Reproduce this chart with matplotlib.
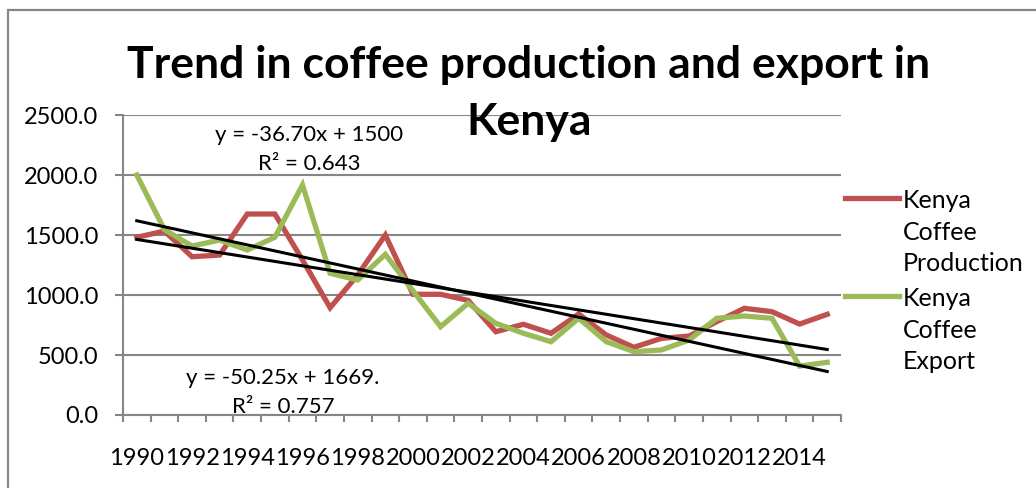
import matplotlib

matplotlib.use("Agg")
import matplotlib.pyplot as plt  # noqa: E402
import numpy as np  # noqa: E402
from matplotlib.lines import Line2D  # noqa: E402
from matplotlib.patches import Rectangle  # noqa: E402

# --- datos (miles de sacos / toneladas, 1990-2015) ---
anios = list(range(1990, 2016))
produccion = [1481, 1533, 1319, 1333, 1675, 1675, 1292, 894, 1167, 1500,
              1006, 1006, 955, 694, 756, 681, 842, 667, 564, 639,
              658, 778, 889, 861, 758, 839]
exportacion = [2000, 1545, 1408, 1458, 1375, 1481, 1917, 1181, 1125, 1339,
               1035, 736, 931, 764, 681, 611, 806, 611, 528, 542,
               625, 806, 825, 806, 408, 439]

# tendencias lineales (x = 1..n) tal como las reporta la hoja
tend_prod = (-36.70, 1500)
tend_exp = (-50.25, 1669)
etiqueta_prod = "y = -36.70x + 1500\nR² = 0.643"
etiqueta_exp = "y = -50.25x + 1669.\nR² = 0.757"

ROJO = "#C0504D"
VERDE = "#9BBB59"
GRIS = "#868686"
FUENTE = ["Lato", "DejaVu Sans"]

plt.rcParams["font.family"] = FUENTE

fig = plt.figure(figsize=(10.36, 4.88), dpi=100)
ax = fig.add_axes([0.1187, 0.1496, 0.6931, 0.6147])

x = np.arange(len(anios))
ax.plot(x, produccion, color=ROJO, lw=3.8, solid_joinstyle="miter", zorder=3)
ax.plot(x, exportacion, color=VERDE, lw=3.8, solid_joinstyle="miter", zorder=3)

xs = np.arange(1, len(anios) + 1)
for m, b in (tend_prod, tend_exp):
    ax.plot(x, m * xs + b, color="black", lw=2.2, zorder=4)

ax.text(6.25, 2215, etiqueta_prod, ha="center", va="center", fontsize=16,
        linespacing=1.55)
ax.text(5.3, 185, etiqueta_exp, ha="center", va="center", fontsize=16,
        linespacing=1.55)

ax.set_xlim(-0.5, len(anios) - 0.5)
ax.set_ylim(0, 2500)
ax.set_yticks(np.arange(0, 2501, 500))
ax.set_yticklabels([f"{v:.1f}" for v in np.arange(0, 2501, 500)])
ax.set_xticks(x[::2])
ax.set_xticklabels([str(a) for a in anios[::2]])
ax.set_xticks(np.arange(-0.5, len(anios)), minor=True)
ax.tick_params(axis="x", which="major", length=0, pad=24, labelsize=17)
ax.tick_params(axis="x", which="minor", length=5, width=1.5, color=GRIS)
ax.tick_params(axis="y", length=6, width=1.5, color=GRIS, labelsize=17, pad=12)

ax.grid(axis="y", color=GRIS, lw=1.5)
ax.set_axisbelow(True)
for lado in ("top", "right"):
    ax.spines[lado].set_visible(False)
for lado in ("left", "bottom"):
    ax.spines[lado].set_color(GRIS)
    ax.spines[lado].set_linewidth(1.5)

# título en dos renglones
titulo = ["Trend in coffee production and export in", "Kenya"]
for renglon, y_base in zip(titulo, (0.840, 0.7234)):
    fig.text(0.5106, y_base, renglon, ha="center", va="baseline",
             fontsize=32, fontweight="bold")

# leyenda a la derecha, con el trazo alineado a la primera línea del texto
for y_pix, color, texto in ((198, ROJO, "Kenya\nCoffee\nProduction"),
                            (296, VERDE, "Kenya\nCoffee\nExport")):
    y = 1 - y_pix / 488
    fig.add_artist(Line2D([845 / 1036, 899 / 1036], [y, y], color=color,
                          lw=3.8, transform=fig.transFigure))
    fig.text(903 / 1036, y + 9 / 488, texto, ha="left", va="top",
             fontsize=18, linespacing=1.45)

# marco del área de gráfico
fig.add_artist(Rectangle((8 / 1036, -0.2), 1.2, 1.2 - 10 / 488,
                         transform=fig.transFigure, fill=False,
                         edgecolor=GRIS, lw=1.6))

fig.savefig("out.png", dpi=100)
